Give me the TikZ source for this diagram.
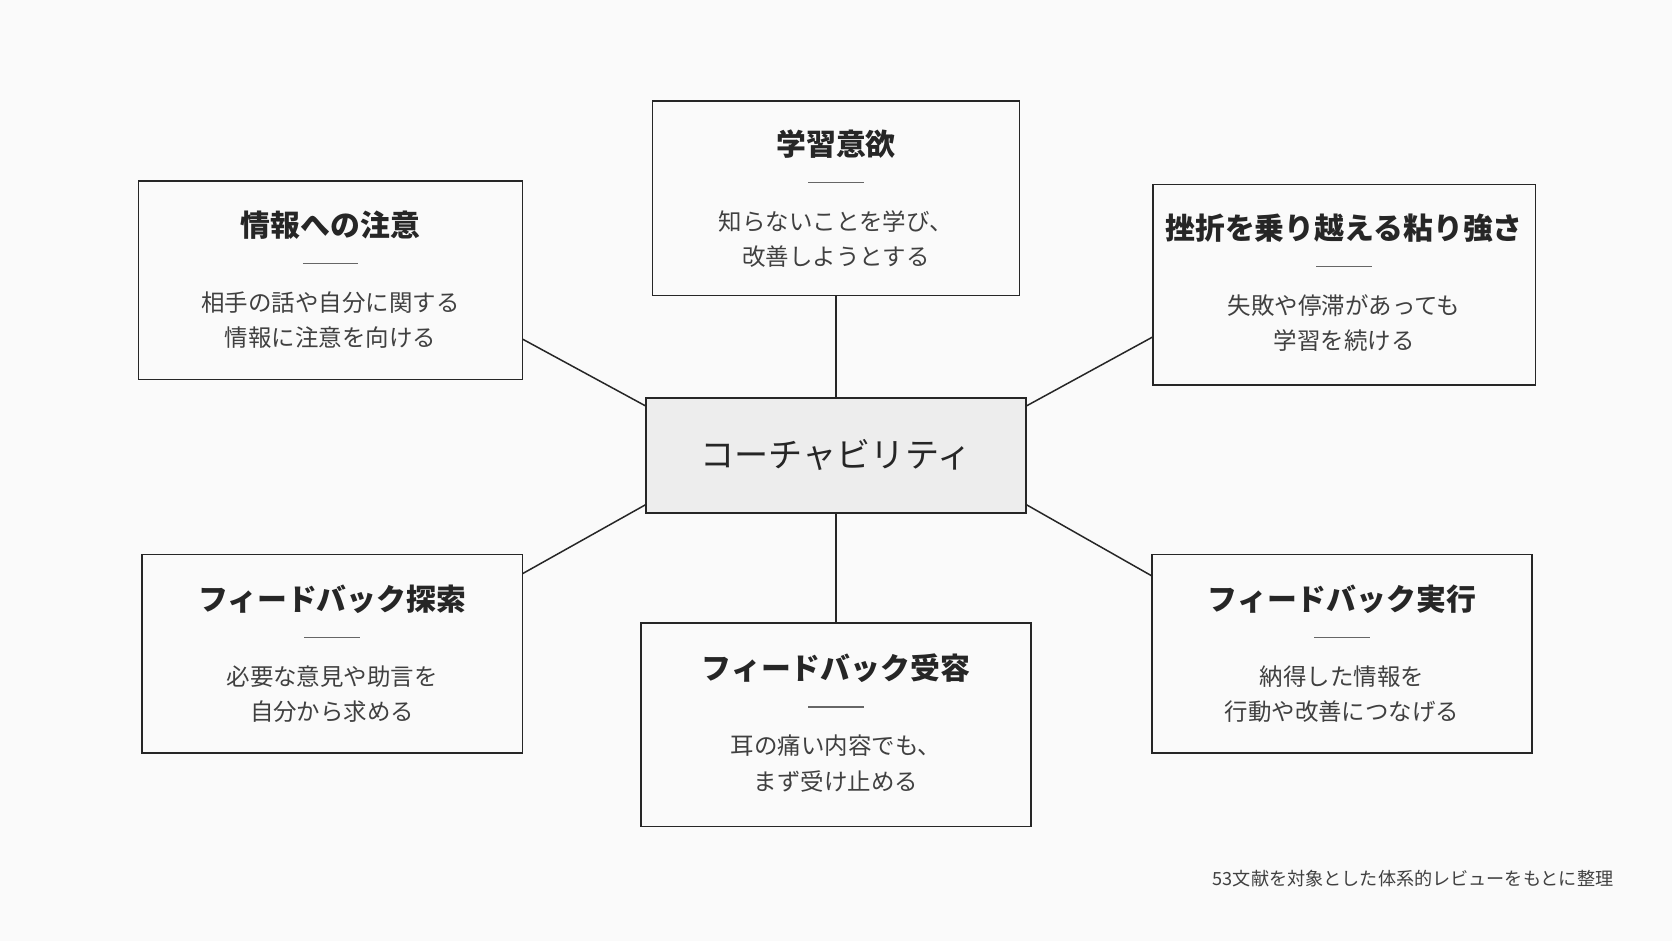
\documentclass[tikz,border=0pt]{standalone}
\usepackage{fontspec}
\setmainfont{Noto Sans CJK JP}
\begin{document}
\begin{tikzpicture}[x=0.5pt,y=-0.5pt,
  box/.style={draw=black!85,line width=0.8pt,inner sep=0pt},
  ttl/.style={font=\fontsize{14}{16}\selectfont\bfseries,text=black!85},
  bd/.style={font=\fontsize{11}{13}\selectfont,text=black!75},
  rl/.style={draw=black!60,line width=0.5pt},
  cn/.style={draw=black!85,line width=0.7pt}]
\useasboundingbox[fill=white!98!black] (0,0) rectangle (1568,882);
\newcommand{\mybox}[9]{%
  \node[box,minimum width={(#4-#2)*0.5pt},minimum height={(#5-#3)*0.5pt}] (#1) at ({(#2+#4)/2},{(#3+#5)/2}) {};
  \node[ttl] (#1t) at ({(#2+#4)/2},#6) {#7};
  \draw[rl] ({(#2+#4)/2-26},{#6+36}) -- ({(#2+#4)/2+26},{#6+36});
  \node[bd,align=center] (#1b) at ({(#2+#4)/2},{#6+89}) {#8\\[3.5pt]#9};
}
\mybox{tp}{612}{95}{956}{277}{135}{学習意欲}{知らないことを学び、}{改善しようとする}
\mybox{lt}{130}{170}{490}{356}{211}{情報への注意}{相手の話や自分に関する}{情報に注意を向ける}
\mybox{rt}{1081}{173}{1440}{361}{214}{挫折を乗り越える粘り強さ}{失敗や停滞があっても}{学習を続ける}
\mybox{lb}{133}{520}{490}{706}{562}{フィードバック探索}{必要な意見や助言を}{自分から求める}
\mybox{bt}{601}{584}{967}{775}{627}{フィードバック受容}{耳の痛い内容でも、}{まず受け止める}
\mybox{rb}{1080}{520}{1437}{706}{562}{フィードバック実行}{納得した情報を}{行動や改善につなげる}
\node[box,fill=black!7,minimum width=178pt,minimum height=54pt,font=\fontsize{16}{18}\selectfont,text=black!85] (c) at (784,427) {コーチャビリティ};
\coordinate (a1) at (490,318); \coordinate (c1) at (606,381);
\coordinate (a2) at (1081,316); \coordinate (c2) at (962,381);
\coordinate (a3) at (490,538); \coordinate (c3) at (606,473);
\coordinate (a4) at (1080,540); \coordinate (c4) at (962,473);
\draw[cn] (a1) -- (c1); \draw[cn] (a2) -- (c2);
\draw[cn] (a3) -- (c3); \draw[cn] (a4) -- (c4);
\draw[cn] (tp.south) -- (c.north); \draw[cn] (bt.north) -- (c.south);
\node[anchor=east,font=\fontsize{8.5}{10}\selectfont,text=black!75] (cap) at (1520,824) {53文献を対象とした体系的レビューをもとに整理};
\end{tikzpicture}
\end{document}
